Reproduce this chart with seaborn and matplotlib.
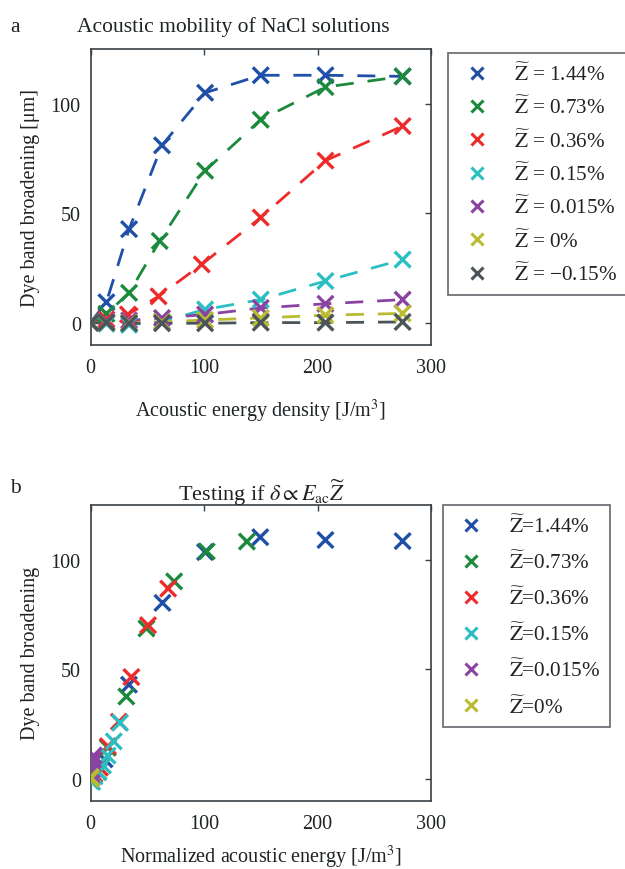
import matplotlib
matplotlib.use("Agg")
import matplotlib.pyplot as plt
import seaborn as sns
import pandas as pd
from matplotlib.lines import Line2D

# ---------------- data ----------------
z_labels_a = ["1.44%", "0.73%", "0.36%", "0.15%", "0.015%", "0%", "\u22120.15%"]
z_labels_b = ["1.44%", "0.73%", "0.36%", "0.15%", "0.015%", "0%"]

colors = ["#1f4fa6", "#1b8a3c", "#ee2b2b", "#2bbfc2", "#8b43a1", "#b9bb30", "#4b5459"]

# panel a : acoustic energy density [J/m^3] vs dye band broadening [um]
energy_144 = [0, 14, 34, 63, 101, 150, 207, 275]
broad_144 = [0, 9.3, 42.7, 81, 105, 113, 113, 112.5]
energy_073 = [0, 14, 34, 61, 101, 150, 207, 275]
broad_073 = [0, 4, 13.6, 37.3, 69.4, 92.7, 107.6, 112.5]
energy_036 = [0, 14, 33, 60, 98, 150, 207, 275]
broad_036 = [0, 1.5, 3.7, 12, 26.6, 48, 74, 89.8]
energy_015 = [0, 14, 34, 63, 101, 150, 207, 275]
broad_015 = [0, -0.5, -1, 0.5, 6, 10.5, 19, 28.8]
energy_0015 = [0, 14, 34, 63, 101, 150, 207, 275]
broad_0015 = [0, 0.5, 1, 2.1, 3.7, 6.7, 8.6, 10.5]
energy_0 = [0, 14, 34, 63, 101, 150, 207, 275]
broad_0 = [0, 0, 0, 0.3, 1.2, 2.1, 3.4, 4.2]
energy_m015 = [0, 14, 34, 63, 101, 150, 207, 275]
broad_m015 = [0, 0, -0.3, -0.3, -0.3, 0, 0, 0.3]

# panel b : normalized acoustic energy [J/m^3] vs dye band broadening
norm_144 = [0, 12.4, 33.9, 63.4, 100.9, 149.6, 207, 275]
scaled_144 = [0, 8.8, 42.9, 80.3, 103.5, 110.3, 109, 108.5]
norm_073 = [0, 7, 15.3, 31.6, 49.3, 73.7, 102.4, 137.8]
scaled_073 = [0, 3, 14.1, 37.5, 68.6, 90.1, 103.8, 108.3]
norm_036 = [0, 3.5, 8.3, 15.3, 25, 36, 50.7, 68.4]
scaled_036 = [0, 2, 5, 14.8, 26, 46.4, 70.1, 86.8]
norm_015 = [0, 1.5, 3.5, 7, 11, 15, 20.5, 26]
scaled_015 = [-1, -1.5, 1, 3, 6, 10.5, 17, 25.5]
norm_0015 = [0, 0.15, 0.35, 0.65, 1.05, 1.55, 2.15, 2.85]
scaled_0015 = [0, 0.5, 1, 2, 4, 6.7, 8.6, 10.5]
norm_0 = [0, 0, 0, 0, 0, 0, 0, 0]
scaled_0 = [0, 0, 0.3, 0.5, 0.6, 0.6, 0.6, 0.6]

series_a = [(energy_144, broad_144), (energy_073, broad_073), (energy_036, broad_036),
            (energy_015, broad_015), (energy_0015, broad_0015), (energy_0, broad_0),
            (energy_m015, broad_m015)]
series_b = [(norm_144, scaled_144), (norm_073, scaled_073), (norm_036, scaled_036),
            (norm_015, scaled_015), (norm_0015, scaled_0015), (norm_0, scaled_0)]

rows = []
for lab, (xs, ys) in zip(z_labels_a, series_a):
    for i, (x, y) in enumerate(zip(xs, ys)):
        rows.append({"Z": lab, "x": x, "y": y, "i": i})
df_a = pd.DataFrame(rows)
rows = []
for lab, (xs, ys) in zip(z_labels_b, series_b):
    for i, (x, y) in enumerate(zip(xs, ys)):
        rows.append({"Z": lab, "x": x, "y": y, "i": i})
df_b = pd.DataFrame(rows)

# ---------------- style ----------------
sns.set_theme(style="white")
plt.rcParams["font.family"] = ["Liberation Serif", "DejaVu Serif"]
plt.rcParams["mathtext.fontset"] = "stix"
FS = 14.5
LFS = 15.2
TXT = "#1e2326"
SPINE = "#3a4045"

fig = plt.figure(figsize=(6.25, 8.7), dpi=100)
W, H = 625.0, 870.0

def ax_at(l, t, r, b):
    return fig.add_axes([l / W, 1 - b / H, (r - l) / W, (b - t) / H])

ax_a = ax_at(90.5, 50, 431, 345.5)
ax_b = ax_at(90.5, 506, 431, 801.5)

pal_a = dict(zip(z_labels_a, colors))
pal_b = dict(zip(z_labels_b, colors[:6]))

# panel a: dashed lines + x markers
sns.lineplot(data=df_a, x="x", y="y", hue="Z", palette=pal_a, hue_order=z_labels_a,
             units="Z", estimator=None, sort=False, legend=False, linewidth=2.0,
             ax=ax_a)
for ln in ax_a.lines:
    ln.set_linestyle((0, (6.5, 5)))
sns.scatterplot(data=df_a, x="x", y="y", hue="Z", palette=pal_a, hue_order=z_labels_a,
                marker="x", s=130, linewidth=2.4, legend=False, ax=ax_a, zorder=3)

# panel b: markers only
sns.scatterplot(data=df_b, x="x", y="y", hue="Z", palette=pal_b, hue_order=z_labels_b,
                marker="x", s=130, linewidth=2.4, legend=False, ax=ax_b, zorder=3)

for ax in (ax_a, ax_b):
    ax.set_xlim(0, 300)
    ax.set_ylim(-10, 125)
    ax.set_xticks([0, 100, 200, 300])
    ax.set_yticks([0, 50, 100])
    ax.tick_params(direction="in", top=True, right=True, length=4, width=1,
                   color=SPINE, labelsize=FS, labelcolor=TXT)
    ax.tick_params(axis="x", pad=10)
    ax.tick_params(axis="y", pad=7)
    for s in ax.spines.values():
        s.set_color(SPINE)
        s.set_linewidth(1.2)
    ax.set_facecolor("white")

ax_a.set_xlabel("Acoustic energy density [J/m$^3$]", fontsize=FS, color=TXT, labelpad=14)
ax_a.set_ylabel("Dye band broadening [\u03bcm]", fontsize=FS, color=TXT, labelpad=8)
ax_b.set_xlabel("Normalized acoustic energy [J/m$^3$]", fontsize=FS, color=TXT, labelpad=7)
ax_b.set_ylabel("Dye band broadening", fontsize=FS, color=TXT, labelpad=8)

fig.text(10 / W, 1 - 27 / H, "a", fontsize=FS + 1, color=TXT, va="center")
fig.text(77 / W, 1 - 27 / H, "Acoustic mobility of NaCl solutions", fontsize=FS + 1,
         color=TXT, va="center", ha="left")
fig.text(10 / W, 1 - 489 / H, "b", fontsize=FS + 1, color=TXT, va="center")
fig.text(262 / W, 1 - 493 / H, r"Testing if $\delta \propto E_{\mathrm{ac}}\widetilde{Z}$",
         fontsize=FS + 1.5, color=TXT, va="center", ha="center")

def legend_for(labels, cols, sep, left_px, top_px, spacing):
    handles = [Line2D([], [], linestyle="none", marker="x", markersize=9,
                      markeredgewidth=2.2, color=c) for c in cols]
    texts = [r"$\widetilde{\mathrm{Z}}$" + sep + l for l in labels]
    leg = fig.legend(handles, texts, loc="upper left",
                     bbox_to_anchor=(left_px / W, 1 - top_px / H),
                     bbox_transform=fig.transFigure, fontsize=LFS, frameon=True,
                     fancybox=False, borderpad=0.45, handlelength=1.8,
                     handletextpad=0.9, labelspacing=spacing, borderaxespad=0)
    fr = leg.get_frame()
    fr.set_edgecolor(SPINE)
    fr.set_linewidth(1.2)
    fr.set_facecolor("white")
    for t in leg.get_texts():
        t.set_color(TXT)
    return leg

legend_for(z_labels_a, colors, " = ", 448, 54, 0.52)
legend_for(z_labels_b, colors[:6], "=", 442.5, 506, 0.65)

fig.savefig("out.png", dpi=100, facecolor="white")
